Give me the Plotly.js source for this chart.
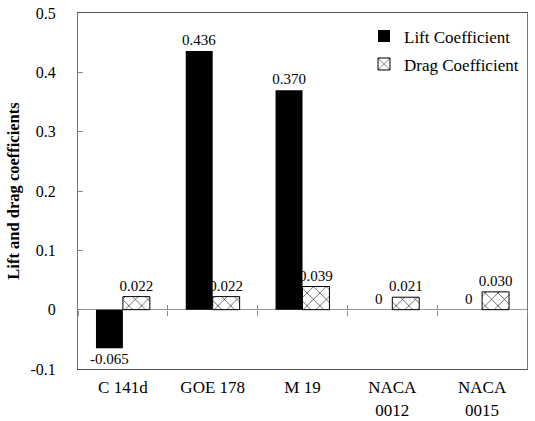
<!DOCTYPE html>
<html>
<head>
<meta charset="utf-8">
<script src="https://cdn.plot.ly/plotly-3.0.1.min.js"></script>
<style>
  html, body { margin: 0; padding: 0; background: #fff; }
  #chart { width: 535px; height: 421px; }
</style>
</head>
<body>
<div id="chart"></div>
<script>
// Airfoil sections and their computed coefficients
const airfoils = ['C 141d', 'GOE 178', 'M 19', 'NACA<br>0012', 'NACA<br>0015'];
const liftCoefficient = [-0.065, 0.436, 0.370, 0, 0];
const dragCoefficient = [0.022, 0.022, 0.039, 0.021, 0.030];

// Y axis tick labels
const yTickValues = [-0.1, 0, 0.1, 0.2, 0.3, 0.4, 0.5];
const yTickLabels = ['-0.1', '0', '0.1', '0.2', '0.3', '0.4', '0.5'];

const FONT = 'Liberation Serif';
const fmt = v => (v === 0 ? '0' : v.toFixed(3));

const lift = {
  type: 'bar',
  name: 'Lift Coefficient',
  x: airfoils,
  y: liftCoefficient,
  text: liftCoefficient.map(fmt),
  textposition: 'outside',
  constraintext: 'none',
  textfont: { family: FONT, size: 15, color: '#000' },
  cliponaxis: false,
  marker: { color: '#000', line: { width: 0 } },
  legendgroup: 'lift',
  hoverinfo: 'x+y'
};

const drag = {
  type: 'bar',
  name: 'Drag Coefficient',
  x: airfoils,
  y: dragCoefficient,
  text: dragCoefficient.map(fmt),
  textposition: 'outside',
  constraintext: 'none',
  textfont: { family: FONT, size: 15, color: '#000' },
  cliponaxis: false,
  marker: {
    color: '#fff',
    line: { color: '#000', width: 1 },
    pattern: { shape: 'x', fgcolor: '#000', bgcolor: '#fff', size: 9, solidity: 0.12 }
  },
  legendgroup: 'drag',
  hoverinfo: 'x+y'
};

// Category separators sitting on the zero line (ticks above and below it)
const zeroPos = (0 - yTickValues[0]) / (yTickValues[yTickValues.length - 1] - yTickValues[0]);
const sepAxis = side => ({
  overlaying: 'x',
  anchor: 'free',
  position: zeroPos,
  type: 'category',
  tickson: 'boundaries',
  ticks: side,
  ticklen: 5,
  tickcolor: '#888',
  tickwidth: 1,
  showticklabels: false,
  showgrid: false,
  showline: false,
  zeroline: false,
  fixedrange: true
});

const sep1 = { type: 'bar', x: airfoils, y: liftCoefficient.map(() => null), xaxis: 'x2', showlegend: false, hoverinfo: 'skip' };
const sep2 = { type: 'bar', x: airfoils, y: liftCoefficient.map(() => null), xaxis: 'x3', showlegend: false, hoverinfo: 'skip' };

const layout = {
  width: 535,
  height: 421,
  margin: { l: 78, r: 8, t: 13, b: 52 },
  paper_bgcolor: '#fff',
  plot_bgcolor: '#fff',
  font: { family: FONT, size: 16, color: '#000' },
  barmode: 'group',
  bargap: 0.4,
  bargroupgap: 0,
  showlegend: true,
  legend: {
    x: 0.637, xanchor: 'left',
    y: 0.985, yanchor: 'top',
    bgcolor: 'rgba(0,0,0,0)',
    font: { family: FONT, size: 17, color: '#000' },
    traceorder: 'grouped',
    tracegroupgap: 3
  },
  xaxis: {
    type: 'category',
    ticks: '',
    ticklabelstandoff: 3,
    showline: true,
    linecolor: '#555',
    linewidth: 1,
    mirror: true,
    showgrid: false,
    zeroline: false,
    tickfont: { family: FONT, size: 17, color: '#000' },
    fixedrange: true
  },
  xaxis2: sepAxis('inside'),
  xaxis3: sepAxis('outside'),
  yaxis: {
    range: [yTickValues[0], yTickValues[yTickValues.length - 1]],
    tickmode: 'array',
    tickvals: yTickValues,
    ticktext: yTickLabels,
    ticks: 'inside',
    ticklen: 5,
    tickcolor: '#888',
    ticklabelstandoff: 18,
    showline: true,
    linecolor: '#777',
    linewidth: 1,
    mirror: true,
    showgrid: false,
    zeroline: true,
    zerolinecolor: '#999',
    zerolinewidth: 1,
    tickfont: { family: FONT, size: 16, color: '#000' },
    title: {
      text: '<b>Lift and drag coefficients</b>',
      font: { family: FONT, size: 16.5, color: '#000' },
      standoff: 6
    },
    fixedrange: true
  }
};

Plotly.newPlot('chart', [lift, drag, sep1, sep2], layout, { displayModeBar: false, staticPlot: true });
</script>
</body>
</html>
